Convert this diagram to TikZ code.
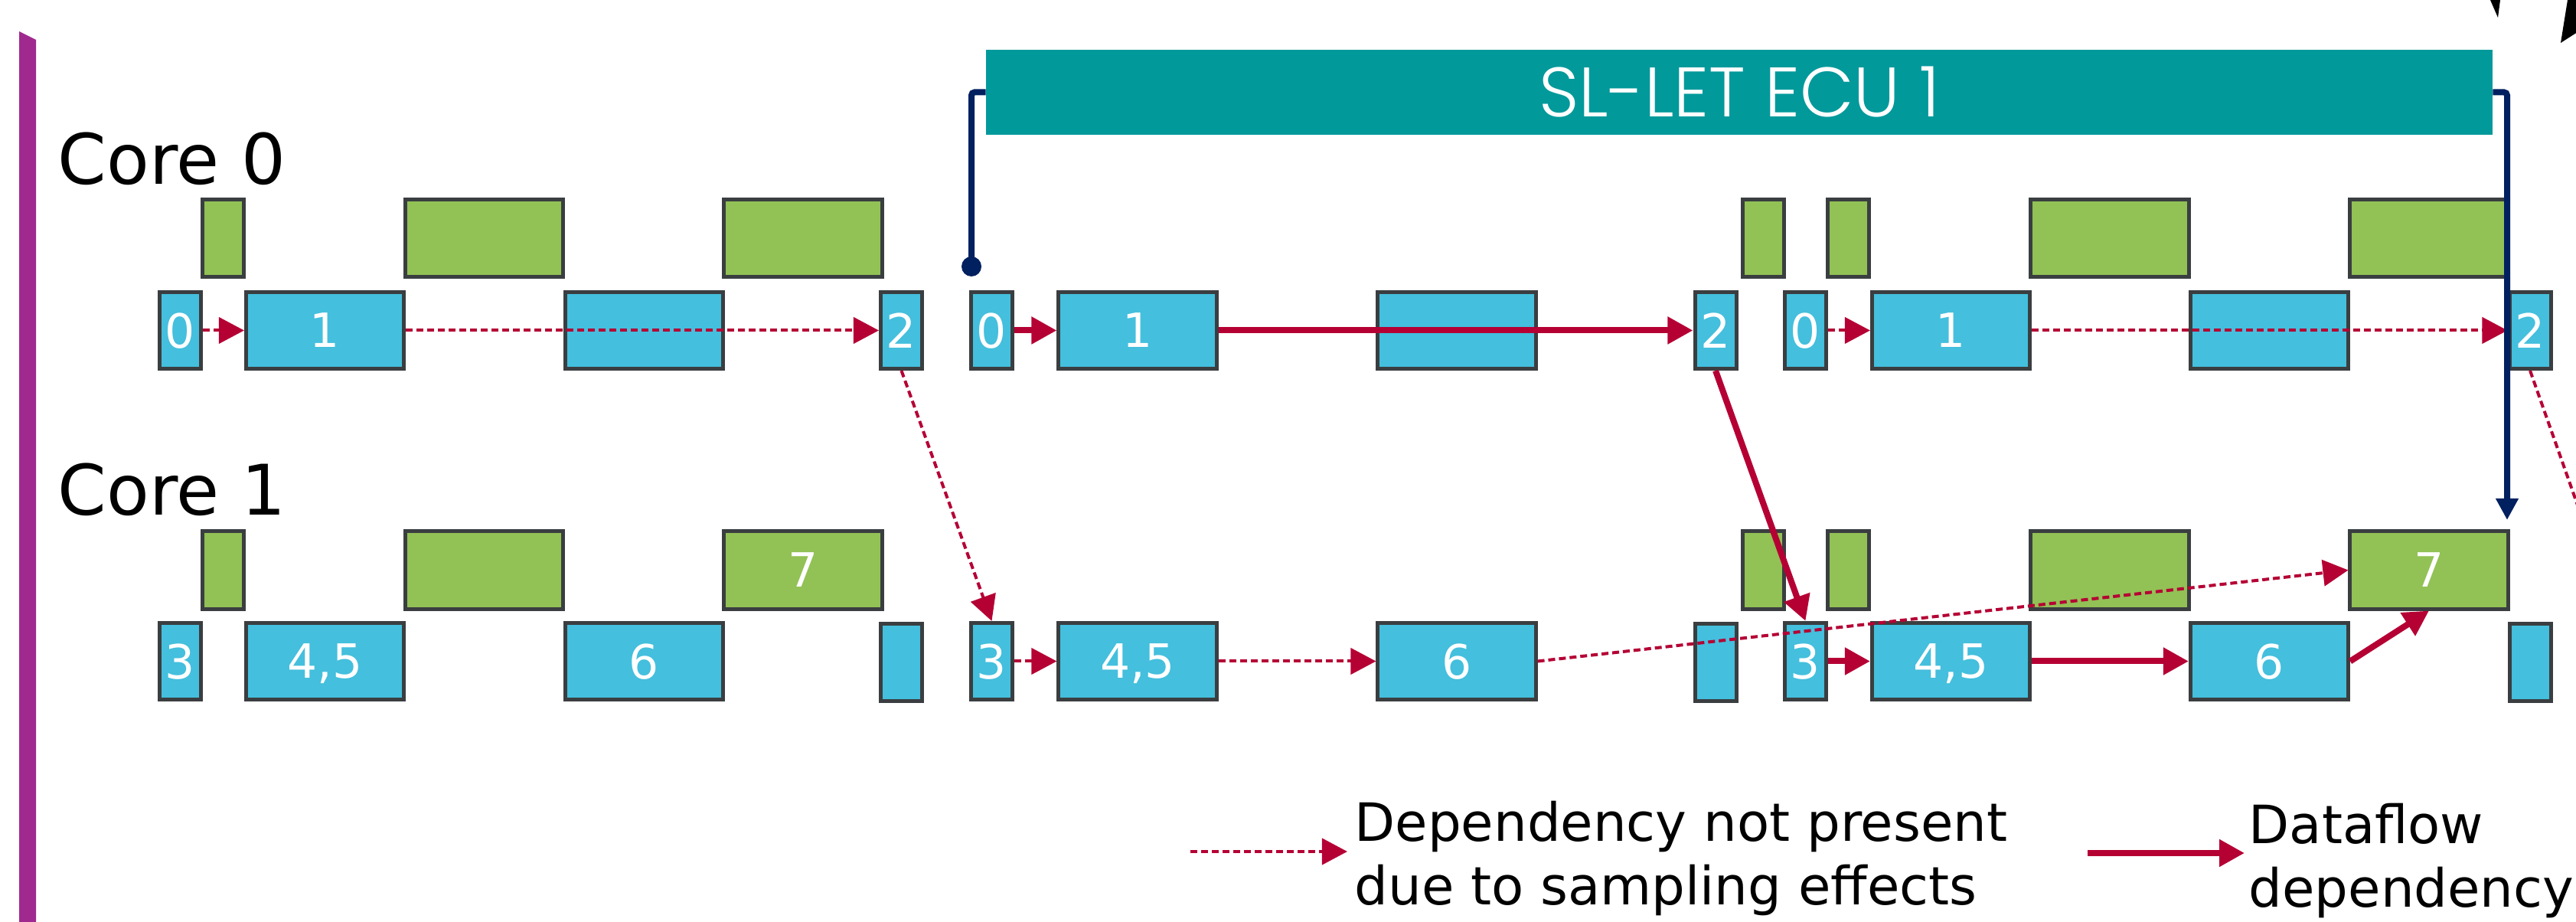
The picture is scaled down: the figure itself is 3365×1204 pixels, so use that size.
\documentclass[tikz,border=0pt]{standalone}
\usepackage{fontspec}
\setmainfont{DejaVu Sans}
\newfontfamily\ecufont{Poppins}[UprightFont=* Light]
\usetikzlibrary{arrows.meta}
\definecolor{taskblue}{RGB}{68,191,221}
\definecolor{taskgreen}{RGB}{146,193,85}
\definecolor{taskedge}{RGB}{58,62,64}
\definecolor{deparrow}{RGB}{181,0,52}
\definecolor{ecuteal}{RGB}{2,153,155}
\definecolor{ecunavy}{RGB}{0,32,96}
\definecolor{sidebar}{RGB}{160,41,143}

\begin{document}
\begin{tikzpicture}[x=0.01cm,y=-0.01cm,
    task/.style={draw=taskedge,line width=0.05cm,inner sep=0,text=white,text depth=0pt,font=\fontsize{17.5}{17.5}\selectfont},
    run/.style={task,fill=taskblue,minimum height=1.00cm},
    idle/.style={task,fill=taskgreen,minimum height=1.01cm},
    narrow/.style={minimum width=0.54cm},
    wide/.style={minimum width=2.06cm},
    sampled/.style={draw=deparrow,line width=0.04cm,dash pattern=on 0.09cm off 0.05cm,-{Triangle[length=0.33cm,width=0.34cm]}},
    flow/.style={draw=deparrow,line width=0.08cm,-{Triangle[length=0.33cm,width=0.34cm]}},
    bracket/.style={draw=ecunavy,line width=0.08cm,rounded corners=0.04cm},
    corelabel/.style={inner sep=0,anchor=base west,font=\fontsize{25.9}{25.9}\selectfont},
    legend/.style={inner sep=0,anchor=north west,align=left,font=\fontsize{19.6}{23.6}\selectfont}]
    \path[use as bounding box,clip] (0,0) rectangle (3365,1204);
    \fill[sidebar] (25,41) -- (47,52) -- (47,1204) -- (25,1204) -- cycle;
    \fill (3253,0) -- (3266,0) -- (3263,23) -- cycle;
    \fill (3354,0) -- (3370,0) -- (3370,40) -- (3345,56) -- cycle;

    \node[corelabel] (core0) at (75,241) {Core 0};
    \node[corelabel] (core1) at (75,673) {Core 1};

    % core 0
    \node[idle,narrow] (u1) at (291.5,311) {};
    \node[idle,wide] (u2) at (632.5,311) {};
    \node[idle,wide] (u3) at (1049,311) {};
    \node[idle,narrow] (u4) at (2303.5,311) {};
    \node[idle,narrow] (u5) at (2414,311) {};
    \node[idle,wide] (u6) at (2756,311) {};
    \node[idle,wide] (u7) at (3173,311) {};
    \node[run,narrow] (a0) at (235.5,431.5) {0};
    \node[run,wide] (a1) at (424.5,431.5) {1};
    \node[run,wide] (ax) at (841.5,431.5) {};
    \node[run,narrow] (a2) at (1177.5,431.5) {2};
    \node[run,narrow] (b0) at (1295.5,431.5) {0};
    \node[run,wide] (b1) at (1486,431.5) {1};
    \node[run,wide] (bx) at (1903,431.5) {};
    \node[run,narrow] (b2) at (2241,431.5) {2};
    \node[run,narrow] (c0) at (2358.5,431.5) {0};
    \node[run,wide] (c1) at (2548.5,431.5) {1};
    \node[run,wide] (cx) at (2964.5,431.5) {};
    \node[run,narrow] (c2) at (3305,431.5) {2};

    % core 1
    \node[idle,narrow] (v1) at (291.5,744.5) {};
    \node[idle,wide] (v2) at (632.5,744.5) {};
    \node[idle,wide] (a7) at (1049,744.5) {7};
    \node[idle,narrow] (v4) at (2303.5,744.5) {};
    \node[idle,narrow] (v5) at (2414,744.5) {};
    \node[idle,wide] (v6) at (2756,744.5) {};
    \node[idle,wide] (c7) at (3173,744.5) {7};
    \node[run,narrow] (a3) at (235.5,863.5) {3};
    \node[run,wide] (a45) at (424.5,863.5) {4,5};
    \node[run,wide] (a6) at (841.5,863.5) {6};
    \node[run,narrow] (ay) at (1177.5,865) {};
    \node[run,narrow] (b3) at (1295.5,863.5) {3};
    \node[run,wide] (b45) at (1486,863.5) {4,5};
    \node[run,wide] (b6) at (1903,863.5) {6};
    \node[run,narrow] (by) at (2241,865) {};
    \node[run,narrow] (c3) at (2358.5,863.5) {3};
    \node[run,wide] (c45) at (2548.5,863.5) {4,5};
    \node[run,wide] (c6) at (2964.5,863.5) {6};
    \node[run,narrow] (cy) at (3305,865) {};

    \node[fill=ecuteal,inner sep=0,minimum width=19.66cm,minimum height=1.11cm,text=white,font=\ecufont\fontsize{26}{26}\selectfont] (ecu) at (2272,120.5) {SL-LET ECU 1};

    \draw[sampled] (a0) -- (a1);
    \draw[sampled] (a1) -- (a2);
    \draw[flow] (b0) -- (b1);
    \draw[flow] (b1) -- (b2);
    \draw[sampled] (c0) -- (c1);
    \draw[sampled] (c1) -- (c2);
    \draw[sampled] (b3) -- (b45);
    \draw[sampled] (b45) -- (b6);
    \draw[sampled] (b6.east) -- (c7.west);
    \draw[flow] (c3) -- (c45);
    \draw[flow] (c45) -- (c6);
    \draw[flow] (c6.east) -- (c7.south);
    \draw[sampled] (a2.south) -- (b3.north);
    \draw[flow] (b2.south) -- (c3.north);
    \coordinate (offpage) at (3400,753);
    \draw[sampled,-] (c2.south) -- (offpage);

    % let interval bracket
    \node[circle,fill=ecunavy,inner sep=0,minimum size=0.26cm] (letstart) at (1269,348) {};
    \coordinate (letend) at (3275,679);
    \draw[bracket] (letstart.center) |- (ecu.west);
    \draw[bracket,-{Triangle[length=0.28cm,width=0.28cm]}] (ecu.east) -| (letend);

    % legend
    \coordinate (lga) at (1555,1112);
    \coordinate (lgb) at (1760,1112);
    \coordinate (lgc) at (2727,1114);
    \coordinate (lgd) at (2932,1114);
    \draw[sampled] (lga) -- (lgb);
    \draw[flow] (lgc) -- (lgd);
    \node[legend] (lgtext1) at (1769,1045) {Dependency not present\\due to sampling effects};
    \node[legend] (lgtext2) at (2937,1048) {Dataflow\\dependency};
\end{tikzpicture}
\end{document}
